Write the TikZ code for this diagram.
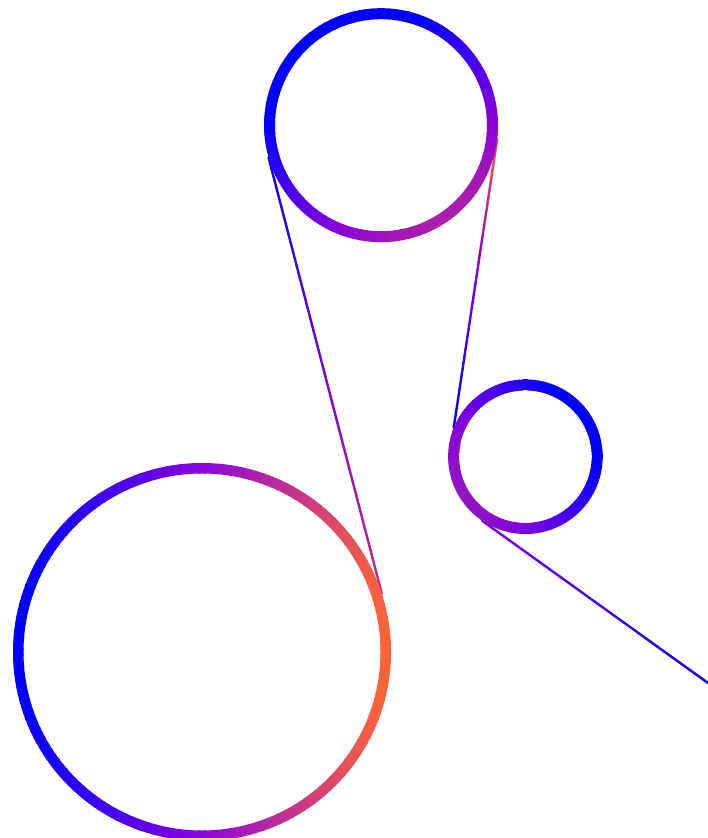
\documentclass[tikz,border=0pt]{standalone}
\usetikzlibrary{calc}
\definecolor{gblue}{HTML}{0000FF}
% circle 3 (large)
\definecolor{cThrA}{HTML}{0000FF}
\definecolor{cThrB}{HTML}{8A05DE}
\definecolor{cThrC}{HTML}{FF6438}
% circle 1 (top)
\definecolor{cOneA}{HTML}{0000FF}
\definecolor{cOneB}{HTML}{8A00DC}
\definecolor{cOneC}{HTML}{AC1EAC}
% circle 2 (small)
\definecolor{cTwoA}{HTML}{0000FF}
\definecolor{cTwoB}{HTML}{7A00E2}
\definecolor{cTwoC}{HTML}{9412C6}
% line A
\definecolor{lAa}{HTML}{0800FF}
\definecolor{lAb}{HTML}{8000E0}
\definecolor{lAc}{HTML}{C8307A}
% line B
\definecolor{lBa}{HTML}{E8445A}
\definecolor{lBb}{HTML}{8800DE}
\definecolor{lBc}{HTML}{0000FF}
% line C
\definecolor{lCa}{HTML}{8400DE}
\definecolor{lCb}{HTML}{4800EE}
\definecolor{lCc}{HTML}{0800FF}

\newcommand\mygrad[7]{% #1 value, #2-#4 stop positions, #5-#7 stop colours
  \pgfmathsetmacro\gP{#1}%
  \ifdim\gP pt<#3pt
    \pgfmathsetmacro\gQ{max(0,min(100,100*(\gP-(#2))/((#3)-(#2))))}%
    \colorlet{segc}{#6!\gQ!#5}%
  \else
    \pgfmathsetmacro\gQ{max(0,min(100,100*(\gP-(#3))/((#4)-(#3))))}%
    \colorlet{segc}{#7!\gQ!#6}%
  \fi}

\tikzset{
  anchorcirc/.style={circle, inner sep=0pt, outer sep=0pt, minimum size=#1},
  ringseg/.style={line cap=butt},
  wire/.style={line width=2.4pt, line cap=round}
}

\begin{document}
\begin{tikzpicture}[x=1pt,y=1pt]
\useasboundingbox (0,0) rectangle (708,838);
\fill[white] (0,0) rectangle (708,838);
\clip (0,0) rectangle (708,838);

% invisible named circles (outer borders)
\node[anchorcirc=234pt] (c1) at (381,712.8) {};
\node[anchorcirc=154.6pt] (c2) at (525.4,381.3) {};
\node[anchorcirc=378pt] (c3) at (202,186) {};
\coordinate (cend) at (708,155);

% connector A: c1 -> c3
\foreach \i in {0,...,39}{
  \pgfmathsetmacro\ta{\i/40}
  \pgfmathsetmacro\tb{(\i+1)/40}
  \pgfmathsetmacro\tm{(\i+0.5)/40}
  \mygrad{\tm}{0}{0.55}{1}{lAa}{lAb}{lAc}
  \draw[wire, draw=segc] ($(c1.196)!\ta!(c3.18)$) -- ($(c1.196)!\tb!(c3.18)$);
}
% connector B: c1 -> c2
\foreach \i in {0,...,39}{
  \pgfmathsetmacro\ta{\i/40}
  \pgfmathsetmacro\tb{(\i+1)/40}
  \pgfmathsetmacro\tm{(\i+0.5)/40}
  \mygrad{\tm}{0.1}{0.42}{1}{lBa}{lBb}{lBc}
  \draw[wire, draw=segc] ($(c1.353)!\ta!(c2.158)$) -- ($(c1.353)!\tb!(c2.158)$);
}
% connector C: c2 -> off picture
\foreach \i in {0,...,39}{
  \pgfmathsetmacro\ta{\i/40}
  \pgfmathsetmacro\tb{(\i+1)/40}
  \pgfmathsetmacro\tm{(\i+0.5)/40}
  \mygrad{\tm}{0}{0.5}{1}{lCa}{lCb}{lCc}
  \draw[wire, draw=segc] ($(c2.236)!\ta!(cend)$) -- ($(c2.236)!\tb!(cend)$);
}

% ring 1
\foreach \a in {0,3,...,357}{
  \pgfmathsetmacro\pp{cos(\a+55)}
  \mygrad{\pp}{-0.6}{0.55}{1}{cOneA}{cOneB}{cOneC}
  \draw[ringseg, line width=11pt, draw=segc] (c1.center) ++({\a-1.8}:111.5) arc[start angle={\a-1.8}, end angle={\a+1.8}, radius=111.5];
}
% ring 2
\foreach \a in {0,3,...,357}{
  \pgfmathsetmacro\pp{cos(\a-210)}
  \mygrad{\pp}{-0.85}{0.45}{1}{cTwoA}{cTwoB}{cTwoC}
  \draw[ringseg, line width=11pt, draw=segc] (c2.center) ++({\a-1.8}:71.8) arc[start angle={\a-1.8}, end angle={\a+1.8}, radius=71.8];
}
% ring 3
\foreach \a in {0,2,...,358}{
  \pgfmathsetmacro\pp{cos(\a)}
  \mygrad{\pp}{-1}{0}{1}{cThrA}{cThrB}{cThrC}
  \draw[ringseg, line width=10.5pt, draw=segc] (c3.center) ++({\a-1.2}:183.75) arc[start angle={\a-1.2}, end angle={\a+1.2}, radius=183.75];
}
\end{tikzpicture}
\end{document}
